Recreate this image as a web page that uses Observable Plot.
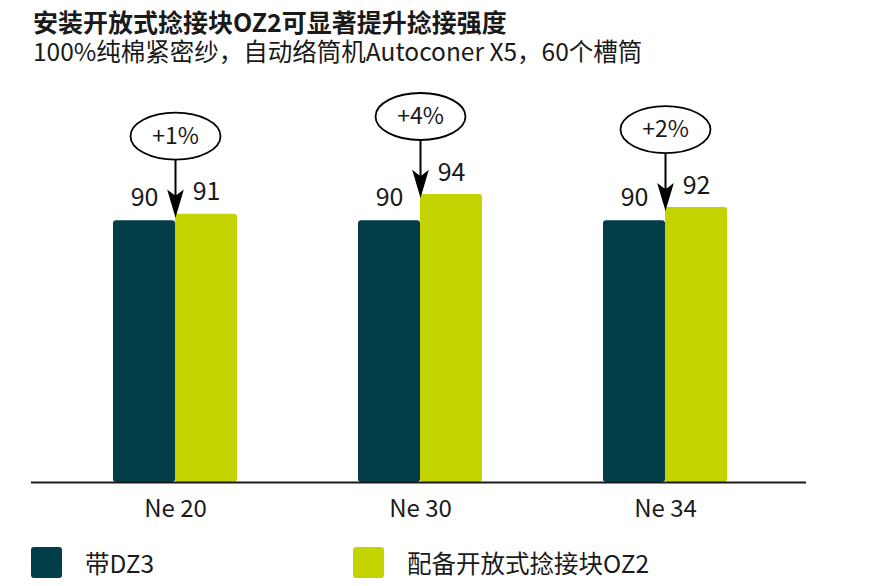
<!DOCTYPE html>
<html>
<head>
<meta charset="utf-8">
<script src="https://cdn.jsdelivr.net/npm/d3@7"></script>
<script src="https://cdn.jsdelivr.net/npm/@observablehq/plot@0.6"></script>
<style>
  html, body { margin: 0; padding: 0; background: #fff; }
  body { font-family: "Noto Sans CJK SC", "Noto Sans", sans-serif; color: #1a1a1a; }
  #wrap { position: relative; width: 890px; height: 586px; overflow: hidden; }
  #title { position: absolute; left: 33px; top: 7px; font-size: 25px; font-weight: 700; line-height: 28px; white-space: nowrap; }
  #sub { position: absolute; left: 33px; top: 37px; font-size: 24.5px; font-weight: 400; line-height: 27px; white-space: nowrap; }
  #chart { position: absolute; left: 0; top: 70px; }
  .leg { position: absolute; top: 547px; height: 31px; display: flex; align-items: center; font-size: 24.5px; white-space: nowrap; }
  .sw { width: 31px; height: 31px; border-radius: 3px; margin-right: 23px; flex: none; }
</style>
</head>
<body>
<div id="wrap">
  <div id="title"></div>
  <div id="sub"></div>
  <div id="chart"></div>
</div>
<script>
// ---- data ----
const titleText = "安装开放式捻接块OZ2可显著提升捻接强度";
const subtitleText = "100%纯棉紧密纱，自动络筒机Autoconer X5，60个槽筒";
const categories = ["Ne 20", "Ne 30", "Ne 34"];
const seriesNames = ["带DZ3", "配备开放式捻接块OZ2"];
const seriesDZ3 = [90, 90, 90];
const seriesOZ2 = [91, 94, 92];
const gainLabels = ["+1%", "+4%", "+2%"];
const colors = ["#023d4a", "#c3d400"];

const table = categories.map((c, i) => ({cat: c, dz3: seriesDZ3[i], oz2: seriesOZ2[i], gain: gainLabels[i]}));

document.getElementById("title").textContent = titleText;
document.getElementById("sub").textContent = subtitleText;

// custom symbols (pixel offsets relative to the top of the OZ2 bar)
const ellipseSymbol = {
  draw(ctx) {
    const rx = 45, ry = 23.5, cy = -78, k = 0.5523;
    ctx.moveTo(rx, cy);
    ctx.bezierCurveTo(rx, cy + ry * k, rx * k, cy + ry, 0, cy + ry);
    ctx.bezierCurveTo(-rx * k, cy + ry, -rx, cy + ry * k, -rx, cy);
    ctx.bezierCurveTo(-rx, cy - ry * k, -rx * k, cy - ry, 0, cy - ry);
    ctx.bezierCurveTo(rx * k, cy - ry, rx, cy - ry * k, rx, cy);
    ctx.closePath();
  }
};
const arrowSymbol = {
  draw(ctx) {
    ctx.moveTo(0, -54.5);
    ctx.lineTo(0, -12);
    ctx.moveTo(0, 0);
    ctx.lineTo(-6.5, -22);
    ctx.lineTo(0, -17);
    ctx.lineTo(6.5, -22);
    ctx.closePath();
  }
};

const font = "Noto Sans CJK SC";
const chart = Plot.plot({
  width: 890,
  height: 470,
  marginLeft: 31,
  marginRight: 84,
  marginTop: 0,
  marginBottom: 58,
  style: {fontFamily: font, color: "#1a1a1a", background: "white"},
  x: {domain: categories, range: [52.5, 787.5], paddingInner: 0.494, paddingOuter: 0.247, axis: null},
  y: {domain: [50, 94], range: [412, 124], axis: null},
  marks: [
    Plot.barY(table, {x: "cat", y1: 50, y2: "dz3", fill: colors[0], insetRight: 62, rx: 3}),
    Plot.barY(table, {x: "cat", y1: 50, y2: "oz2", fill: colors[1], insetLeft: 62, rx: 3}),
    Plot.ruleY([50], {stroke: "#1a1a1a", strokeWidth: 2.2}),
    Plot.axisX({tickSize: 0, tickPadding: 17, fontSize: 24, label: null, fill: "#1a1a1a"}),
    Plot.text(table, {x: "cat", y: "dz3", text: d => String(d.dz3), dx: -31, dy: -23, fontSize: 25, lineAnchor: "middle", fill: "#1a1a1a"}),
    Plot.text(table, {x: "cat", y: "oz2", text: d => String(d.oz2), dx: 31, dy: -22, fontSize: 25, lineAnchor: "middle", fill: "#1a1a1a"}),
    Plot.dot(table, {x: "cat", y: "oz2", symbol: arrowSymbol, fill: "#000", stroke: "#000", strokeWidth: 2}),
    Plot.dot(table, {x: "cat", y: "oz2", symbol: ellipseSymbol, fill: "white", stroke: "#000", strokeWidth: 1.8}),
    Plot.text(table, {x: "cat", y: "oz2", text: "gain", dy: -78, fontSize: 23, lineAnchor: "middle", fill: "#1a1a1a"})
  ]
});
document.getElementById("chart").appendChild(chart);

// legend
const wrap = document.getElementById("wrap");
const legLeft = [31, 353];
seriesNames.forEach((name, i) => {
  const item = document.createElement("div");
  item.className = "leg";
  item.style.left = legLeft[i] + "px";
  const sw = document.createElement("div");
  sw.className = "sw";
  sw.style.background = colors[i];
  const tx = document.createElement("span");
  tx.textContent = name;
  item.appendChild(sw);
  item.appendChild(tx);
  wrap.appendChild(item);
});
</script>
</body>
</html>
